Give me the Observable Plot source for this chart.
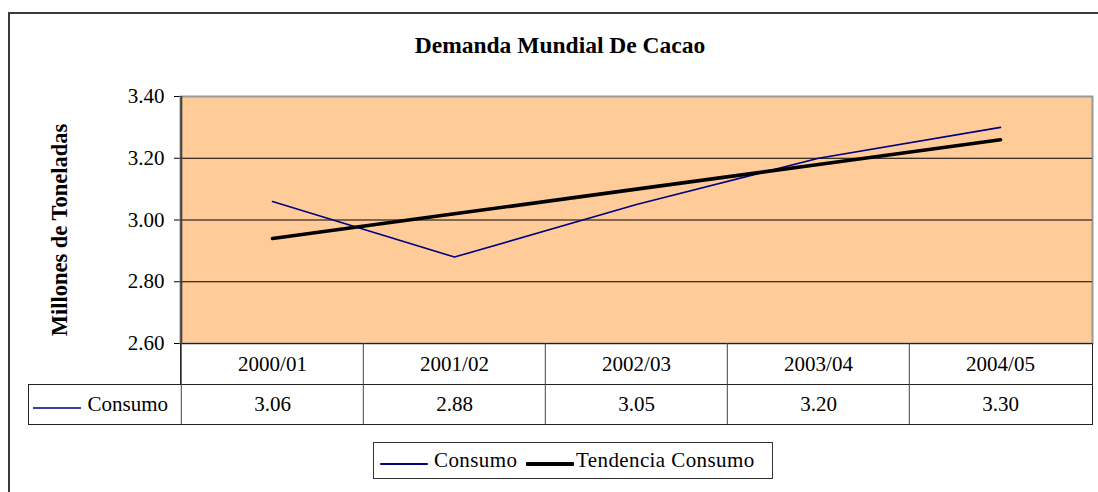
<!DOCTYPE html>
<html>
<head>
<meta charset="utf-8">
<script src="https://cdn.jsdelivr.net/npm/d3@7"></script>
<script src="https://cdn.jsdelivr.net/npm/@observablehq/plot@0.6"></script>
<style>
  html, body { margin: 0; padding: 0; background: #fff; }
  #wrap { position: relative; width: 1098px; height: 492px; overflow: hidden; font-family: 'Liberation Serif', serif; }
  #outer { position: absolute; left: 8px; top: 12px; width: 1200px; height: 600px; border: 2px solid #3a3a3a; box-sizing: border-box; }
  #chart { position: absolute; left: 0; top: 0; }
  #legend { position: absolute; left: 373px; top: 442px; width: 400px; height: 37px; border: 1px solid #333; box-sizing: border-box; font-size: 21px; color: #000; font-family: 'Liberation Serif', serif; letter-spacing: 0.4px; }
  #legend .item { position: absolute; top: 0; height: 35px; line-height: 35px; white-space: nowrap; }
  #legend .swatch { position: absolute; }
</style>
</head>
<body>
<div id="wrap">
  <div id="outer"></div>
  <div id="chart"></div>
  <div id="legend"></div>
</div>
<script>
const title = "Demanda Mundial De Cacao";
const yLabel = "Millones de Toneladas";
const categories = ["2000/01", "2001/02", "2002/03", "2003/04", "2004/05"];
const consumo = [3.06, 2.88, 3.05, 3.20, 3.30];
const tendencia = [2.94, 3.02, 3.10, 3.18, 3.26];
const yTicks = [2.60, 2.80, 3.00, 3.20, 3.40];
const seriesNames = ["Consumo", "Tendencia Consumo"];
const seriesColors = ["#000080", "#000000"];

const FONT = "'Liberation Serif', serif";
const W = 1098, H = 435, mL = 180, mR = 6, mT = 96, mB = 92;
const step = (W - mL - mR) / categories.length;
const frameH = H - mT - mB;
const rowH = 41;

const rowsConsumo = categories.map((c, i) => ({cat: c, value: consumo[i]}));
const rowsTrend = categories.map((c, i) => ({cat: c, value: tendencia[i]}));

const plot = Plot.plot({
  width: W, height: H,
  marginLeft: mL, marginRight: mR, marginTop: mT, marginBottom: mB,
  style: {fontFamily: FONT, fontSize: "21px", color: "#000", background: "transparent", overflow: "visible"},
  x: {type: "point", domain: categories, padding: 0.5, axis: null},
  y: {domain: [2.6, 3.4], ticks: yTicks, tickFormat: d => d.toFixed(2), tickSize: 6, tickPadding: 10, label: null},
  marks: [
    Plot.frame({fill: "#FFCC99", stroke: "#999999", strokeWidth: 2}),
    Plot.ruleY(yTicks.slice(0, -1), {stroke: "#000", strokeWidth: 1}),
    // data table: header row & value row boxes
    Plot.frame({stroke: "#222", strokeWidth: 1, insetTop: frameH, insetBottom: -rowH}),
    Plot.frame({stroke: "#222", strokeWidth: 1, insetTop: frameH + rowH, insetBottom: -2 * rowH + 1, insetLeft: -(mL - 28)}),
    Plot.ruleX(categories, {x: d => d, dx: -step / 2, stroke: "#444", strokeWidth: 1, insetTop: frameH, insetBottom: -2 * rowH + 1}),
    // left axis line
    Plot.ruleX([categories[0]], {x: d => d, dx: -step / 2, stroke: "#404040", strokeWidth: 2}),
    // series
    Plot.line(rowsConsumo, {x: "cat", y: "value", stroke: seriesColors[0], strokeWidth: 1.6}),
    Plot.line(rowsTrend, {x: "cat", y: "value", stroke: seriesColors[1], strokeWidth: 3.6, strokeLinecap: "round"}),
    // table texts
    Plot.text(categories, {x: d => d, frameAnchor: "bottom", dy: rowH / 2, fontSize: 21, fontFamily: FONT, lineAnchor: "middle", letterSpacing: "0.4px"}),
    Plot.text(rowsConsumo, {x: "cat", text: d => d.value.toFixed(2), frameAnchor: "bottom", dy: rowH * 1.5 - 1, fontSize: 21, fontFamily: FONT, lineAnchor: "middle", letterSpacing: "0.4px"}),
    Plot.text([seriesNames[0]], {frameAnchor: "bottom-left", dx: -93, dy: rowH * 1.5 - 1, textAnchor: "start", fontSize: 21, fontFamily: FONT, lineAnchor: "middle", letterSpacing: "0.3px"}),
    Plot.ruleY([2.6], {dy: rowH * 1.5 + 3, insetLeft: -147, insetRight: (W - mR - 81), stroke: seriesColors[0], strokeWidth: 1.6}),
    // title & y label
    Plot.text([title], {frameAnchor: "top", dx: -76.5, dy: -51, fontWeight: "bold", fontSize: 23.5, fontFamily: FONT, lineAnchor: "middle", letterSpacing: "-0.3px"}),
    Plot.text([yLabel], {frameAnchor: "left", textAnchor: "middle", rotate: -90, dx: -121, dy: 10, fontWeight: "bold", fontSize: 22.5, fontFamily: FONT, lineAnchor: "middle"})
  ]
});
document.getElementById("chart").appendChild(plot);

// legend
const legend = document.getElementById("legend");
const items = [
  {name: seriesNames[0], color: seriesColors[0], lw: 1.6, x0: 6, x1: 54, tx: 60},
  {name: seriesNames[1], color: seriesColors[1], lw: 3.5, x0: 152, x1: 200, tx: 202}
];
for (const it of items) {
  const sw = document.createElement("div");
  sw.className = "swatch";
  sw.style.left = it.x0 + "px";
  sw.style.width = (it.x1 - it.x0) + "px";
  sw.style.top = (21 - it.lw / 2) + "px";
  sw.style.height = it.lw + "px";
  sw.style.background = it.color;
  sw.style.borderRadius = "1px";
  legend.appendChild(sw);
  const t = document.createElement("div");
  t.className = "item";
  t.style.left = it.tx + "px";
  t.textContent = it.name;
  legend.appendChild(t);
}
</script>
</body>
</html>
